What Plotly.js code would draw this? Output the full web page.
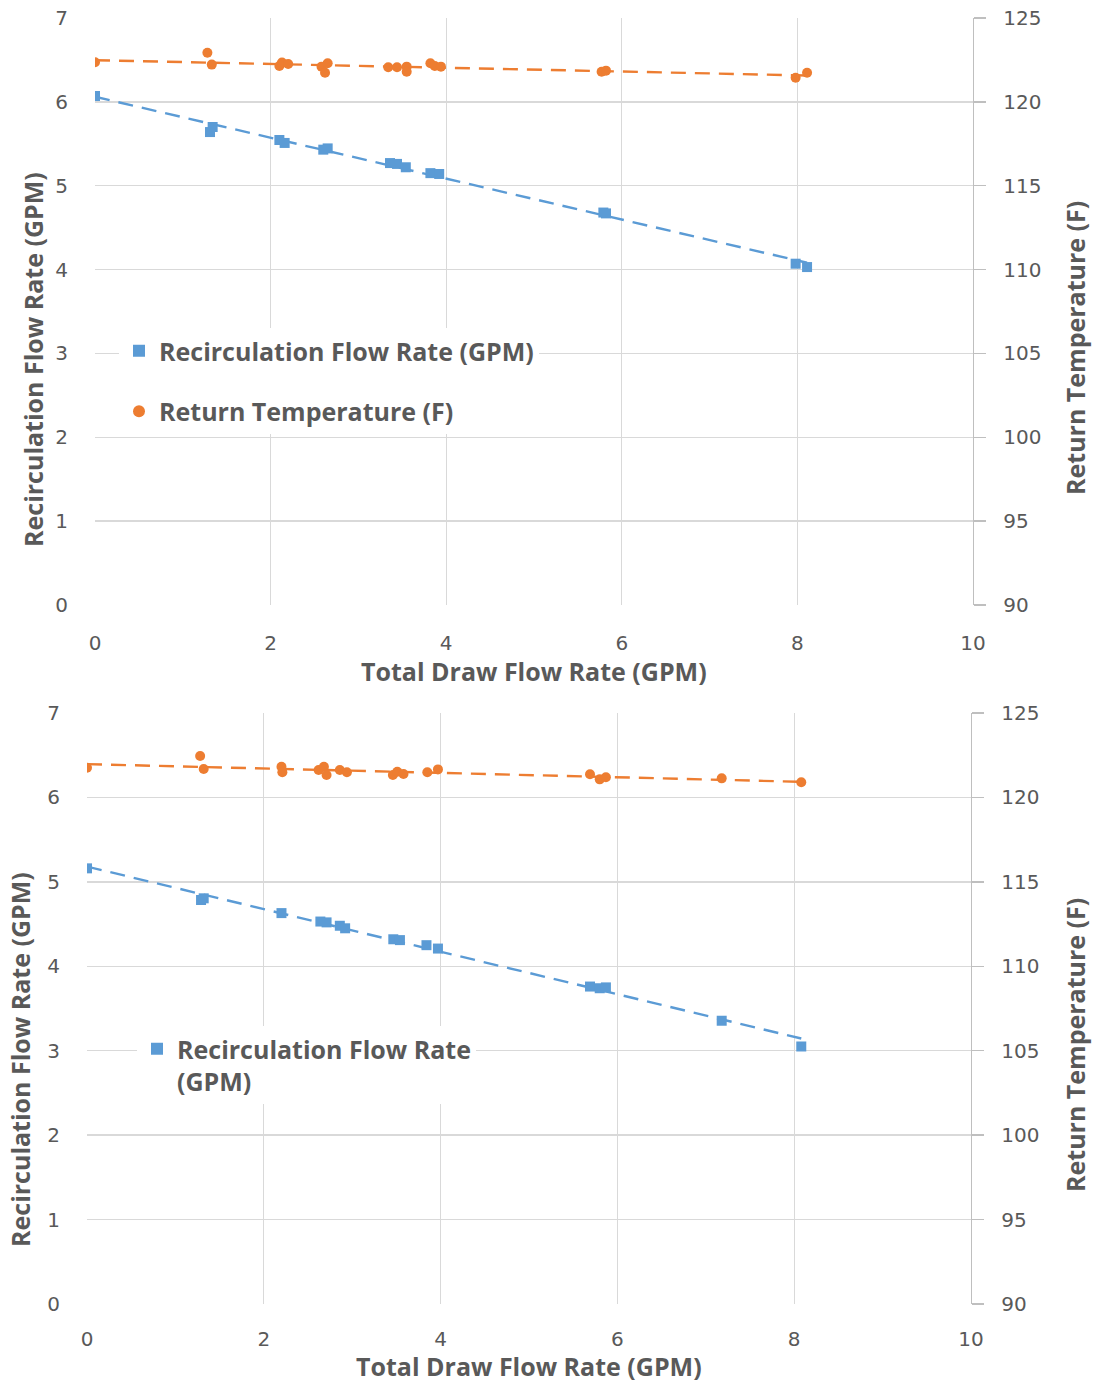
<!DOCTYPE html>
<html>
<head>
<meta charset="utf-8">
<script src="https://cdn.plot.ly/plotly-3.0.1.min.js"></script>
<style>html,body{margin:0;padding:0;background:#fff;}#chart{width:1095px;height:1385px;}</style>
</head>
<body>
<div id="chart"></div>
<script>
// ---- Data ----
const topFlowX = [0, 1.31, 1.34, 2.10, 2.16, 2.60, 2.65, 3.36, 3.44, 3.54, 3.82, 3.92, 5.79, 5.82, 7.98, 8.11];
const topFlowY = [6.07, 5.64, 5.70, 5.545, 5.51, 5.43, 5.445, 5.27, 5.26, 5.22, 5.15, 5.14, 4.68, 4.67, 4.07, 4.03];
const topTempX = [0, 1.28, 1.33, 2.10, 2.13, 2.20, 2.58, 2.62, 2.65, 3.34, 3.44, 3.55, 3.55, 3.82, 3.87, 3.94, 5.77, 5.82, 7.98, 8.11];
const topTempY = [122.36, 122.93, 122.22, 122.14, 122.34, 122.26, 122.1, 121.74, 122.3, 122.06, 122.06, 122.1, 121.8, 122.3, 122.14, 122.1, 121.8, 121.86, 121.44, 121.74];

const botFlowX = [0, 1.29, 1.32, 2.20, 2.64, 2.71, 2.86, 2.92, 3.465, 3.54, 3.84, 3.97, 5.69, 5.80, 5.87, 7.18, 8.08];
const botFlowY = [5.16, 4.785, 4.805, 4.63, 4.53, 4.52, 4.48, 4.45, 4.32, 4.31, 4.25, 4.21, 3.76, 3.74, 3.75, 3.355, 3.05];
const botTempX = [0, 1.28, 1.32, 2.20, 2.21, 2.62, 2.68, 2.71, 2.86, 2.94, 3.46, 3.51, 3.58, 3.85, 3.97, 5.69, 5.80, 5.87, 7.18, 8.08];
const botTempY = [121.76, 122.45, 121.68, 121.82, 121.49, 121.62, 121.82, 121.33, 121.62, 121.49, 121.33, 121.52, 121.39, 121.49, 121.66, 121.37, 121.07, 121.19, 121.13, 120.9];

const xTicks = [0, 2, 4, 6, 8, 10];
const leftTicks = [0, 1, 2, 3, 4, 5, 6, 7];
const rightTicks = [90, 95, 100, 105, 110, 115, 120, 125];

// ---- Styles ----
const BLUE = '#5B9BD5', ORANGE = '#ED7D31', GRID = '#D9D9D9', TXT = '#595959';
const W = 1095, H = 1385;
const px = v => v / W, py = v => 1 - v / H;

// least-squares linear trendline (as Excel does)
function trend(xs, ys) {
  const n = xs.length;
  const mx = xs.reduce((a, b) => a + b, 0) / n, my = ys.reduce((a, b) => a + b, 0) / n;
  let sxy = 0, sxx = 0;
  for (let i = 0; i < n; i++) { sxy += (xs[i] - mx) * (ys[i] - my); sxx += (xs[i] - mx) ** 2; }
  const b = sxy / sxx, a = my - b * mx;
  const x0 = Math.min(...xs), x1 = Math.max(...xs);
  return { x: [x0, x1], y: [a + b * x0, a + b * x1] };
}

const dashLine = c => ({ color: c, width: 2.4, dash: '15px,9px' });
const tTopFlow = trend(topFlowX, topFlowY), tTopTemp = trend(topTempX, topTempY);
const tBotFlow = trend(botFlowX, botFlowY), tBotTemp = trend(botTempX, botTempY);

const traces = [
  { x: tTopFlow.x, y: tTopFlow.y, xaxis: 'x', yaxis: 'y', mode: 'lines', line: dashLine(BLUE), showlegend: false, hoverinfo: 'skip' },
  { x: tTopTemp.x, y: tTopTemp.y, xaxis: 'x', yaxis: 'y2', mode: 'lines', line: dashLine(ORANGE), showlegend: false, hoverinfo: 'skip' },
  { x: topFlowX, y: topFlowY, xaxis: 'x', yaxis: 'y', mode: 'markers', name: 'Recirculation Flow Rate (GPM)',
    marker: { symbol: 'square', size: 10, color: BLUE }, legend: 'legend', legendgroup: 'a' },
  { x: topTempX, y: topTempY, xaxis: 'x', yaxis: 'y2', mode: 'markers', name: 'Return Temperature (F)',
    marker: { symbol: 'circle', size: 10, color: ORANGE }, legend: 'legend', legendgroup: 'b' },

  { x: tBotFlow.x, y: tBotFlow.y, xaxis: 'x2', yaxis: 'y3', mode: 'lines', line: dashLine(BLUE), showlegend: false, hoverinfo: 'skip' },
  { x: tBotTemp.x, y: tBotTemp.y, xaxis: 'x2', yaxis: 'y4', mode: 'lines', line: dashLine(ORANGE), showlegend: false, hoverinfo: 'skip' },
  { x: botFlowX, y: botFlowY, xaxis: 'x2', yaxis: 'y3', mode: 'markers', name: 'Recirculation Flow Rate<br>(GPM)',
    marker: { symbol: 'square', size: 10, color: BLUE }, legend: 'legend2' },
  { x: botTempX, y: botTempY, xaxis: 'x2', yaxis: 'y4', mode: 'markers', name: 'Return Temperature (F)',
    marker: { symbol: 'circle', size: 10, color: ORANGE }, showlegend: false }
];

const tickFont = { family: 'DejaVu Sans', size: 20, color: TXT };
const boldFont = { family: 'Open Sans', size: 25, color: TXT, weight: 700 };
const legFont = { family: 'Open Sans', size: 25, color: TXT, weight: 700 };

function xAxis(domain, anchor, standoff) {
  return { domain, anchor, range: [0, 10], tickvals: xTicks, ticktext: xTicks.map(String), showgrid: true, gridcolor: GRID, gridwidth: 1.3,
    zeroline: false, showline: false, ticks: '', tickfont: tickFont, ticklabelstandoff: standoff, fixedrange: true };
}
function yLeft(domain, anchor) {
  return { domain, anchor, range: [0, 7], tickvals: leftTicks, ticktext: leftTicks.map(String), showgrid: true, gridcolor: GRID, gridwidth: 1.3,
    zeroline: false, showline: false, ticks: '', tickfont: tickFont, ticklabelstandoff: 26, fixedrange: true };
}
function yRight(overlay, anchor) {
  return { overlaying: overlay, anchor, side: 'right', range: [90, 125], tickvals: rightTicks, ticktext: rightTicks.map(String),
    showgrid: false, zeroline: false, showline: true, linecolor: '#BFBFBF', linewidth: 1.3, ticks: 'outside', ticklen: 12,
    tickcolor: '#BFBFBF', tickwidth: 1.3, tickfont: tickFont, ticklabelstandoff: 13, fixedrange: true };
}

const ann = (text, x, y, angle, yanchor) => ({ text, x: px(x), y: py(y), xref: 'paper', yref: 'paper', showarrow: false,
  xanchor: 'center', yanchor: yanchor || 'middle', textangle: angle || 0, font: boldFont });

const layout = {
  width: W, height: H, margin: { l: 0, r: 0, t: 0, b: 0 }, paper_bgcolor: '#fff', plot_bgcolor: '#fff',
  xaxis: xAxis([px(95), px(973)], 'y', 24),
  yaxis: yLeft([py(605), py(18)], 'x'),
  yaxis2: yRight('y', 'x'),
  xaxis2: xAxis([px(87), px(971)], 'y3', 21),
  yaxis3: yLeft([py(1304), py(713)], 'x2'),
  yaxis4: yRight('y3', 'x2'),
  legend: { x: px(119), y: py(328), xanchor: 'left', yanchor: 'top', bgcolor: '#fff', font: legFont,
    traceorder: 'grouped', tracegroupgap: 25, itemsizing: 'constant' },
  legend2: { x: px(137), y: py(1026), xanchor: 'left', yanchor: 'top', bgcolor: '#fff', font: legFont,
    itemsizing: 'constant', valign: 'top' },
  annotations: [
    ann('Recirculation Flow Rate (GPM)', 33, 360, -90),
    ann('Return Temperature (F)', 1075, 348, -90),
    ann('Total Draw Flow Rate (GPM)', 534, 671),
    ann('Recirculation Flow Rate (GPM)', 20, 1060, -90),
    ann('Return Temperature (F)', 1075, 1045, -90),
    ann('Total Draw Flow Rate (GPM)', 529, 1385, 0, 'bottom')
  ],
  showlegend: true
};

Plotly.newPlot('chart', traces, layout, { displayModeBar: false, staticPlot: true });
</script>
</body>
</html>
